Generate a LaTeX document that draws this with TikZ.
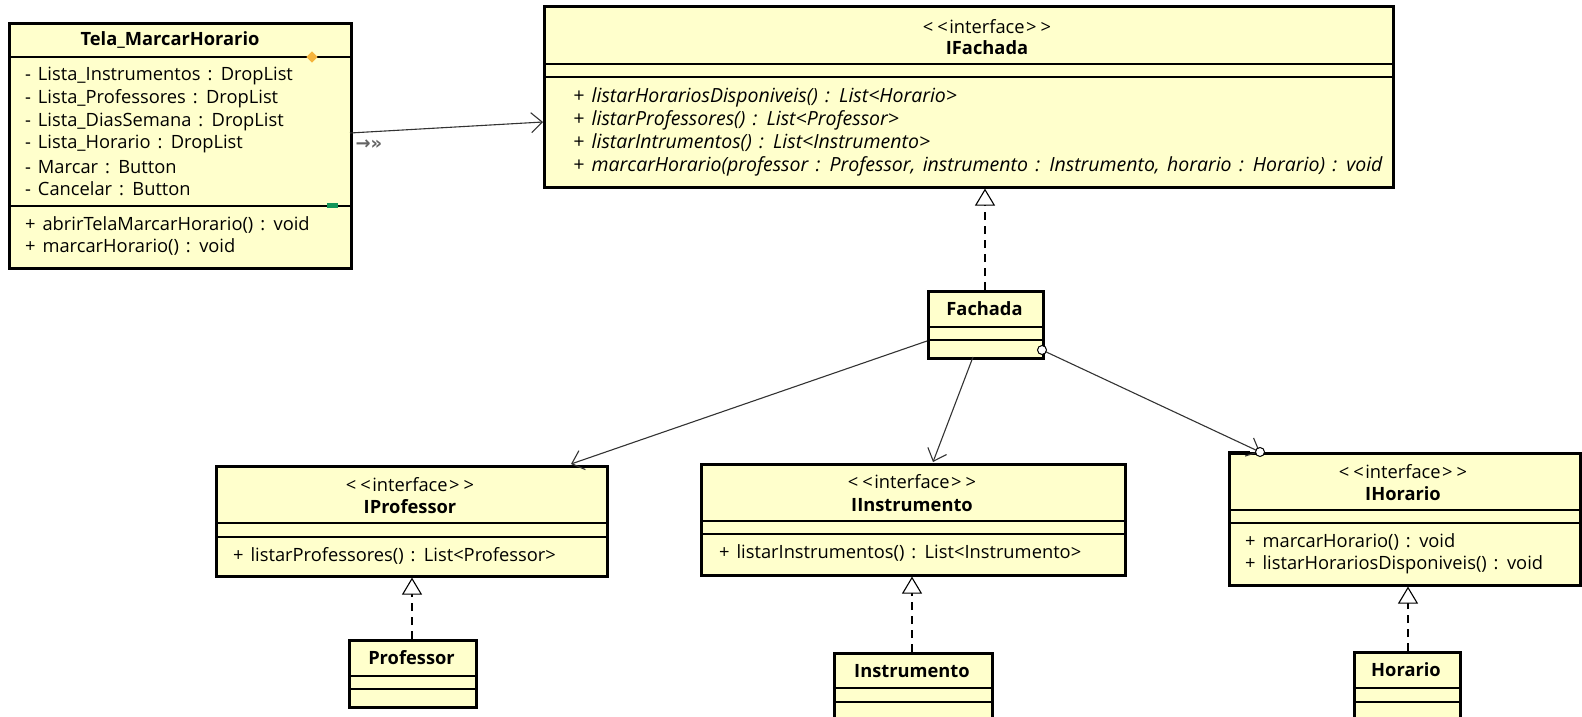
\documentclass[tikz,border=0pt]{standalone}
\usepackage{fontspec}
\setmainfont[WordSpace=1.45]{Open Sans}
\newfontfamily\symfont{DejaVu Sans}
\usetikzlibrary{arrows.meta}
\definecolor{umlfill}{RGB}{255,255,204}
\definecolor{umlgray}{RGB}{100,100,100}
\definecolor{umlorange}{RGB}{245,180,60}
\definecolor{umlgreen}{RGB}{20,150,90}
\newcommand{\stereo}{{<}\kern4pt{<}\kern1.5pt interface\kern1.5pt{>}\kern4pt{>}}
\tikzset{
  umlbox/.style={draw=black, line width=2.6pt, fill=umlfill, inner sep=0pt, anchor=north west},
  sepline/.style={line width=1.1pt},
  txt/.style={inner sep=0pt, font=\fontsize{18.3}{20}\selectfont},
  ttl/.style={txt, font=\fontsize{18.3}{20}\selectfont\bfseries},
  itl/.style={txt, anchor=west, font=\fontsize{19.5}{20}\selectfont\itshape},
  attr/.style={txt, anchor=west},
  assoc/.style={line width=1.1pt, draw=black!80, -{Straight Barb[length=11pt,width=20pt,line width=1.1pt]}},
  realiz/.style={line width=1.1pt, dash pattern=on 8pt off 6pt, -{Triangle[open,length=17pt,width=20pt,line width=1.1pt,fill=white]}},
}
\begin{document}
\begin{tikzpicture}[x=1pt,y=-1pt]
\useasboundingbox (0,0) rectangle (1582,717);

% ---------- Tela_MarcarHorario ----------
\node[umlbox, minimum width=342pt, minimum height=245pt] (tela) at (8,22) {};
\draw[sepline] (8,57) -- (350,57);
\draw[sepline] (8,206) -- (350,206);
\node[ttl] (telaT) at (170,40) {Tela\_MarcarHorario};
\node[attr] (ta1) at (25,76) {- Lista\_Instrumentos : DropList};
\node[attr] (ta2) at (25,99) {- Lista\_Professores : DropList};
\node[attr] (ta3) at (25,122) {- Lista\_DiasSemana : DropList};
\node[attr] (ta4) at (25,144) {- Lista\_Horario : DropList};
\node[attr] (ta5) at (25,167) {- Marcar : Button};
\node[attr] (ta6) at (25,189) {- Cancelar : Button};
\node[attr] (tm1) at (25,225) {+ abrirTelaMarcarHorario() : void};
\node[attr] (tm2) at (25,247) {+ marcarHorario() : void};
\node[fill=umlorange, minimum size=8pt, inner sep=0pt, rotate=45] (dia) at (312,57) {};
\node[fill=umlgreen, minimum width=11pt, minimum height=5pt, inner sep=0pt] (grn) at (332,205) {};

% ---------- IFachada ----------
\node[umlbox, minimum width=849pt, minimum height=181pt] (ifach) at (543,5) {};
\draw[sepline] (543,64) -- (1392,64);
\draw[sepline] (543,77) -- (1392,77);
\node[txt] (ifachS) at (987,27) {\stereo};
\node[ttl] (ifachT) at (987,48) {IFachada};
\node[itl] (if1) at (573,97) {+ listarHorariosDisponiveis() : List<Horario>};
\node[itl] (if2) at (573,120) {+ listarProfessores() : List<Professor>};
\node[itl] (if3) at (573,143) {+ listarIntrumentos() : List<Instrumento>};
\node[itl] (if4) at (573,166) {+ marcarHorario(professor : Professor, instrumento : Instrumento, horario : Horario) : void};

% ---------- Fachada ----------
\node[umlbox, minimum width=115pt, minimum height=67pt] (fach) at (927,290) {};
\draw[sepline] (927,327) -- (1042,327);
\draw[sepline] (927,340) -- (1042,340);
\node[ttl] (fachT) at (984.5,309) {Fachada};

% ---------- IProfessor ----------
\node[umlbox, minimum width=391pt, minimum height=110pt] (iprof) at (215,465) {};
\draw[sepline] (215,523) -- (606,523);
\draw[sepline] (215,537) -- (606,537);
\node[txt] (iprofS) at (410,485) {\stereo};
\node[ttl] (iprofT) at (410,507) {IProfessor};
\node[attr] (ip1) at (233,556) {+ listarProfessores() : List<Professor>};

% ---------- Professor ----------
\node[umlbox, minimum width=127pt, minimum height=67pt] (prof) at (348,639) {};
\draw[sepline] (348,676) -- (475,676);
\draw[sepline] (348,689) -- (475,689);
\node[ttl] (profT) at (411.5,658) {Professor};

% ---------- IInstrumento ----------
\node[umlbox, minimum width=424pt, minimum height=111pt] (iinst) at (700,463) {};
\draw[sepline] (700,521) -- (1124,521);
\draw[sepline] (700,534) -- (1124,534);
\node[txt] (iinstS) at (912,482) {\stereo};
\node[ttl] (iinstT) at (912,505) {IInstrumento};
\node[attr] (ii1) at (719,553) {+ listarInstrumentos() : List<Instrumento>};

% ---------- Instrumento ----------
\node[umlbox, minimum width=158pt, minimum height=80pt] (inst) at (833,652) {};
\draw[sepline] (833,688) -- (991,688);
\draw[sepline] (833,702) -- (991,702);
\node[ttl] (instT) at (912,671) {Instrumento};

% ---------- IHorario ----------
\node[umlbox, minimum width=351pt, minimum height=132pt] (ihor) at (1228,452) {};
\draw[sepline] (1228,510) -- (1579,510);
\draw[sepline] (1228,523) -- (1579,523);
\node[txt] (ihorS) at (1403,472) {\stereo};
\node[ttl] (ihorT) at (1403,494) {IHorario};
\node[attr] (ih1) at (1245,542) {+ marcarHorario() : void};
\node[attr] (ih2) at (1245,565) {+ listarHorariosDisponiveis() : void};

% ---------- Horario ----------
\node[umlbox, minimum width=106pt, minimum height=80pt] (hor) at (1353,651) {};
\draw[sepline] (1353,688) -- (1459,688);
\draw[sepline] (1353,702) -- (1459,702);
\node[ttl] (horT) at (1406,670) {Horario};

% ---------- connectors ----------
\coordinate (c1) at (350,133);
\coordinate (c2) at (543,122);
\draw[assoc] (c1) -- (c2);
\node[inner sep=0pt, text=umlgray, font=\symfont\fontsize{18}{20}\selectfont\bfseries] (lbl) at (369,145) {→»};

\draw[realiz] (fach.north -| 985,0) -- (ifach.south -| 985,0);
\draw[realiz] (prof.north -| 412,0) -- (iprof.south -| 412,0);
\draw[realiz] (inst.north -| 912,0) -- (iinst.south -| 912,0);
\draw[realiz] (hor.north -| 1408,0) -- (ihor.south -| 1408,0);

\coordinate (f1) at (927,341);
\coordinate (p1) at (571,464);
\draw[assoc] (f1) -- (p1);
\coordinate (f2) at (973,357);
\coordinate (p2) at (933,462);
\draw[assoc] (f2) -- (p2);
\coordinate (f3) at (1042,350);
\coordinate (p3) at (1260,452);
\draw[assoc] (f3) -- (p3);
\draw[line width=1pt, fill=white] (f3) circle (4.5pt);
\draw[line width=1pt, fill=white] (p3) circle (4.5pt);
\draw[line width=2.6pt] (1228,452) -- (1250,452);
\end{tikzpicture}
\end{document}
